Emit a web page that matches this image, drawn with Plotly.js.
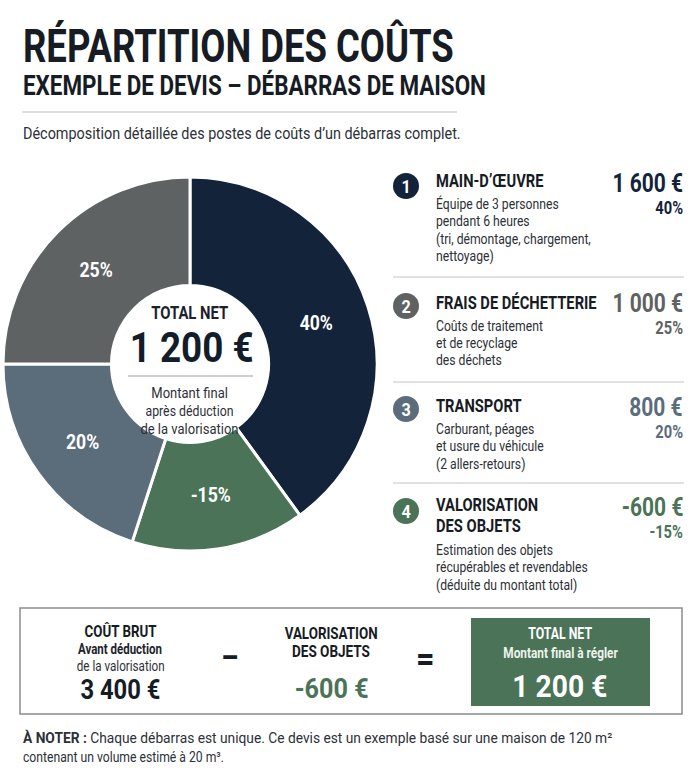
<!DOCTYPE html>
<html><head><meta charset="utf-8">
<script src="https://cdn.plot.ly/plotly-3.0.1.min.js"></script>
<style>html,body{margin:0;padding:0;background:#fff}#chart{width:699px;height:768px}</style>
</head><body><div id="chart"></div>
<script>
// ---- data ----
const categories = ["MAIN-D’ŒUVRE", "FRAIS DE DÉCHETTERIE", "TRANSPORT", "VALORISATION<br>DES OBJETS"];
const amounts = [1600, 1000, 800, -600];
const shares = [40, 25, 20, -15];
const amountLabels = ["1 600 €", "1 000 €", "800 €", "-600 €"];
const shareLabels = ["40%", "25%", "20%", "-15%"];
const descriptions = [
  ["Équipe de 3 personnes", "pendant 6 heures", "(tri, démontage, chargement,", "nettoyage)"],
  ["Coûts de traitement", "et de recyclage", "des déchets"],
  ["Carburant, péages", "et usure du véhicule", "(2 allers-retours)"],
  ["Estimation des objets", "récupérables et revendables", "(déduite du montant total)"]
];
const pieOrder = [0, 3, 2, 1]; // clockwise from top
const grossLabel = "3 400 €";
const valorLabel = "-600 €";
const netLabel = "1 200 €";

// ---- style ----
const colors = ["#13233a", "#5e6263", "#5b6c7b", "#4a7357"];
const FONT = "Roboto, 'Liberation Sans', sans-serif";
const SX = 0.84; // horizontal condensation applied to texts
const W = 699, H = 768;
const px = x => x / W, py = y => 1 - y / H;

const trace = {
  type: "pie",
  values: pieOrder.map(i => Math.abs(shares[i])),
  labels: pieOrder.map(i => categories[i]),
  text: pieOrder.map(i => shareLabels[i]),
  textinfo: "text",
  textposition: "inside",
  insidetextorientation: "horizontal",
  sort: false,
  direction: "clockwise",
  rotation: 0,
  hole: 0.42,
  marker: { colors: pieOrder.map(i => colors[i]), line: { color: "#ffffff", width: 3 } },
  textfont: { family: FONT, size: 21, color: "#ffffff", weight: 700 },
  domain: { x: [px(3), px(377)], y: [py(556), py(172)] },
  showlegend: false,
  hoverinfo: "label+text"
};

const ann = [];
const annMeta = [];
const shapes = [];
function T(text, x, y, size, opts = {}) {
  const xa = opts.xanchor || "left";
  ann.push({
    text, x: px(x), y: py(y), xref: "paper", yref: "paper", showarrow: false,
    xanchor: xa, yanchor: "middle", align: xa === "right" ? "right" : (xa === "center" ? "center" : "left"),
    font: { family: FONT, size, color: opts.color || "#1a1f29", weight: opts.weight || 400 }
  });
  annMeta.push({ anchor: xa, width: opts.w || null, sx: opts.sx || SX });
}
function L(x0, y0, x1, y1, color, w) {
  shapes.push({ type: "line", xref: "paper", yref: "paper", x0: px(x0), y0: py(y0), x1: px(x1), y1: py(y1), line: { color, width: w } });
}
const INK = "#161b24", GREY = "#2c3038";

// header
T("RÉPARTITION DES COÛTS", 21, 46, 46, { weight: 700, color: INK, w: 431 });
T("EXEMPLE DE DEVIS – DÉBARRAS DE MAISON", 21, 86, 28, { weight: 700, color: INK, w: 463 });
L(22, 112, 457, 112, "#bdbdbd", 1);
T("Décomposition détaillée des postes de coûts d’un débarras complet.", 21, 133, 17, { color: GREY, w: 438 });

// center of donut
T("TOTAL NET", 190, 313, 18, { weight: 700, xanchor: "center", color: "#1b222d", w: 77 });
T(netLabel, 191, 347, 42, { weight: 700, xanchor: "center", color: "#131c2a", w: 124 });
L(128, 376, 253, 376, "#a0a0a0", 1);
T("Montant final", 190, 393, 15.5, { xanchor: "center", color: GREY });
T("après déduction", 190, 411, 15.5, { xanchor: "center", color: GREY, w: 88 });
T("de la valorisation", 190, 429, 15.5, { xanchor: "center", color: GREY });

// right list
const rowY = [186, 306, 409, 511];
const titleY = [181, 302, 406, 505];
const amtY = [183, 303, 407, 507];
const descY0 = [204, 326, 429, 550];
for (let i = 0; i < 4; i++) {
  shapes.push({ type: "circle", xref: "paper", yref: "paper",
    x0: px(406 - 13), x1: px(406 + 13), y0: py(rowY[i] + 13), y1: py(rowY[i] - 13),
    fillcolor: colors[i], line: { width: 0 } });
  T(String(i + 1), 406, rowY[i] + 0.5, 18, { weight: 700, xanchor: "center", color: "#ffffff", sx: 0.9 });
  const parts = categories[i].split("<br>");
  parts.forEach((p, k) => T(p, 434, titleY[i] + k * 21, 17.5, { weight: 700, color: INK }));
  T(amountLabels[i], 685, amtY[i], 25, { weight: 700, xanchor: "right", color: colors[i] });
  T(shareLabels[i], 685, amtY[i] + 25, 17.5, { weight: 700, xanchor: "right", color: colors[i] });
  descriptions[i].forEach((d, k) => T(d, 434, descY0[i] + k * 17.5, 14.5, { color: GREY }));
}
L(393, 277, 684, 277, "#c4c4c4", 1);
L(393, 382, 684, 382, "#c4c4c4", 1);
L(393, 483, 684, 483, "#c4c4c4", 1);

// bottom box
shapes.push({ type: "rect", xref: "paper", yref: "paper", x0: px(20), x1: px(682), y0: py(714), y1: py(608),
  line: { color: "#8c8c8c", width: 1.5 }, fillcolor: "rgba(0,0,0,0)" });
shapes.push({ type: "rect", xref: "paper", yref: "paper", x0: px(471), x1: px(650), y0: py(706), y1: py(618),
  line: { width: 0 }, fillcolor: colors[3] });
T("COÛT BRUT", 120, 631, 16.5, { weight: 700, xanchor: "center", color: INK, w: 72 });
T("Avant déduction", 120, 649, 14.5, { weight: 700, xanchor: "center", color: "#1e232b", w: 84 });
T("de la valorisation", 120, 666, 14.5, { xanchor: "center", color: GREY, w: 88 });
T(grossLabel, 120, 690, 27, { weight: 700, xanchor: "center", color: INK, w: 80 });
T("–", 229, 657, 34, { weight: 700, xanchor: "center", color: INK, sx: 0.8 });
T("VALORISATION", 331, 633, 17, { weight: 700, xanchor: "center", color: INK, w: 93 });
T("DES OBJETS", 331, 651, 17, { weight: 700, xanchor: "center", color: INK, w: 78 });
T(valorLabel, 331, 689, 27, { weight: 700, xanchor: "center", color: colors[3], w: 74 });
T("=", 425, 659, 36, { weight: 700, xanchor: "center", color: INK, sx: 0.9 });
T("TOTAL NET", 560, 633, 17, { weight: 700, xanchor: "center", color: "#ffffff", w: 64 });
T("Montant final à régler", 560, 653, 15, { weight: 700, xanchor: "center", color: "#eef3ee", w: 115 });
T(netLabel, 560, 686, 32, { weight: 700, xanchor: "center", color: "#ffffff", w: 95 });

// footnote
T("<b>À NOTER :</b> Chaque débarras est unique. Ce devis est un exemple basé sur une maison de 120 m²", 21, 738, 14.5, { color: GREY, w: 590 });
T("contenant un volume estimé à 20 m³.", 21, 757, 14.5, { color: GREY });

const layout = {
  width: W, height: H, margin: { l: 0, r: 0, t: 0, b: 0 },
  paper_bgcolor: "#ffffff", plot_bgcolor: "#ffffff",
  annotations: ann, shapes: shapes, showlegend: false
};

function condense(gd) {
  gd.querySelectorAll("g.annotation").forEach(g => {
    const idx = +g.getAttribute("data-index");
    const m = annMeta[idx];
    const t = g.querySelector("text.annotation-text");
    if (!m || !t) return;
    const bb = t.getBBox();
    let s = m.sx;
    if (m.width && bb.width > 0) s = Math.min(1, m.width / bb.width);
    const p = m.anchor === "left" ? bb.x : (m.anchor === "right" ? bb.x + bb.width : bb.x + bb.width / 2);
    const prev = t.getAttribute("transform") || "";
    t.setAttribute("transform", (prev + ` translate(${p * (1 - s)},0) scale(${s},1)`).trim());
  });
  gd.querySelectorAll("g.slicetext text").forEach(t => {
    const prev = t.getAttribute("transform") || "";
    t.setAttribute("transform", (prev + ` scale(${SX},1)`).trim());
  });
}
Plotly.newPlot("chart", [trace], layout, { displayModeBar: false, staticPlot: true })
  .then(gd => condense(gd));
</script></body></html>
